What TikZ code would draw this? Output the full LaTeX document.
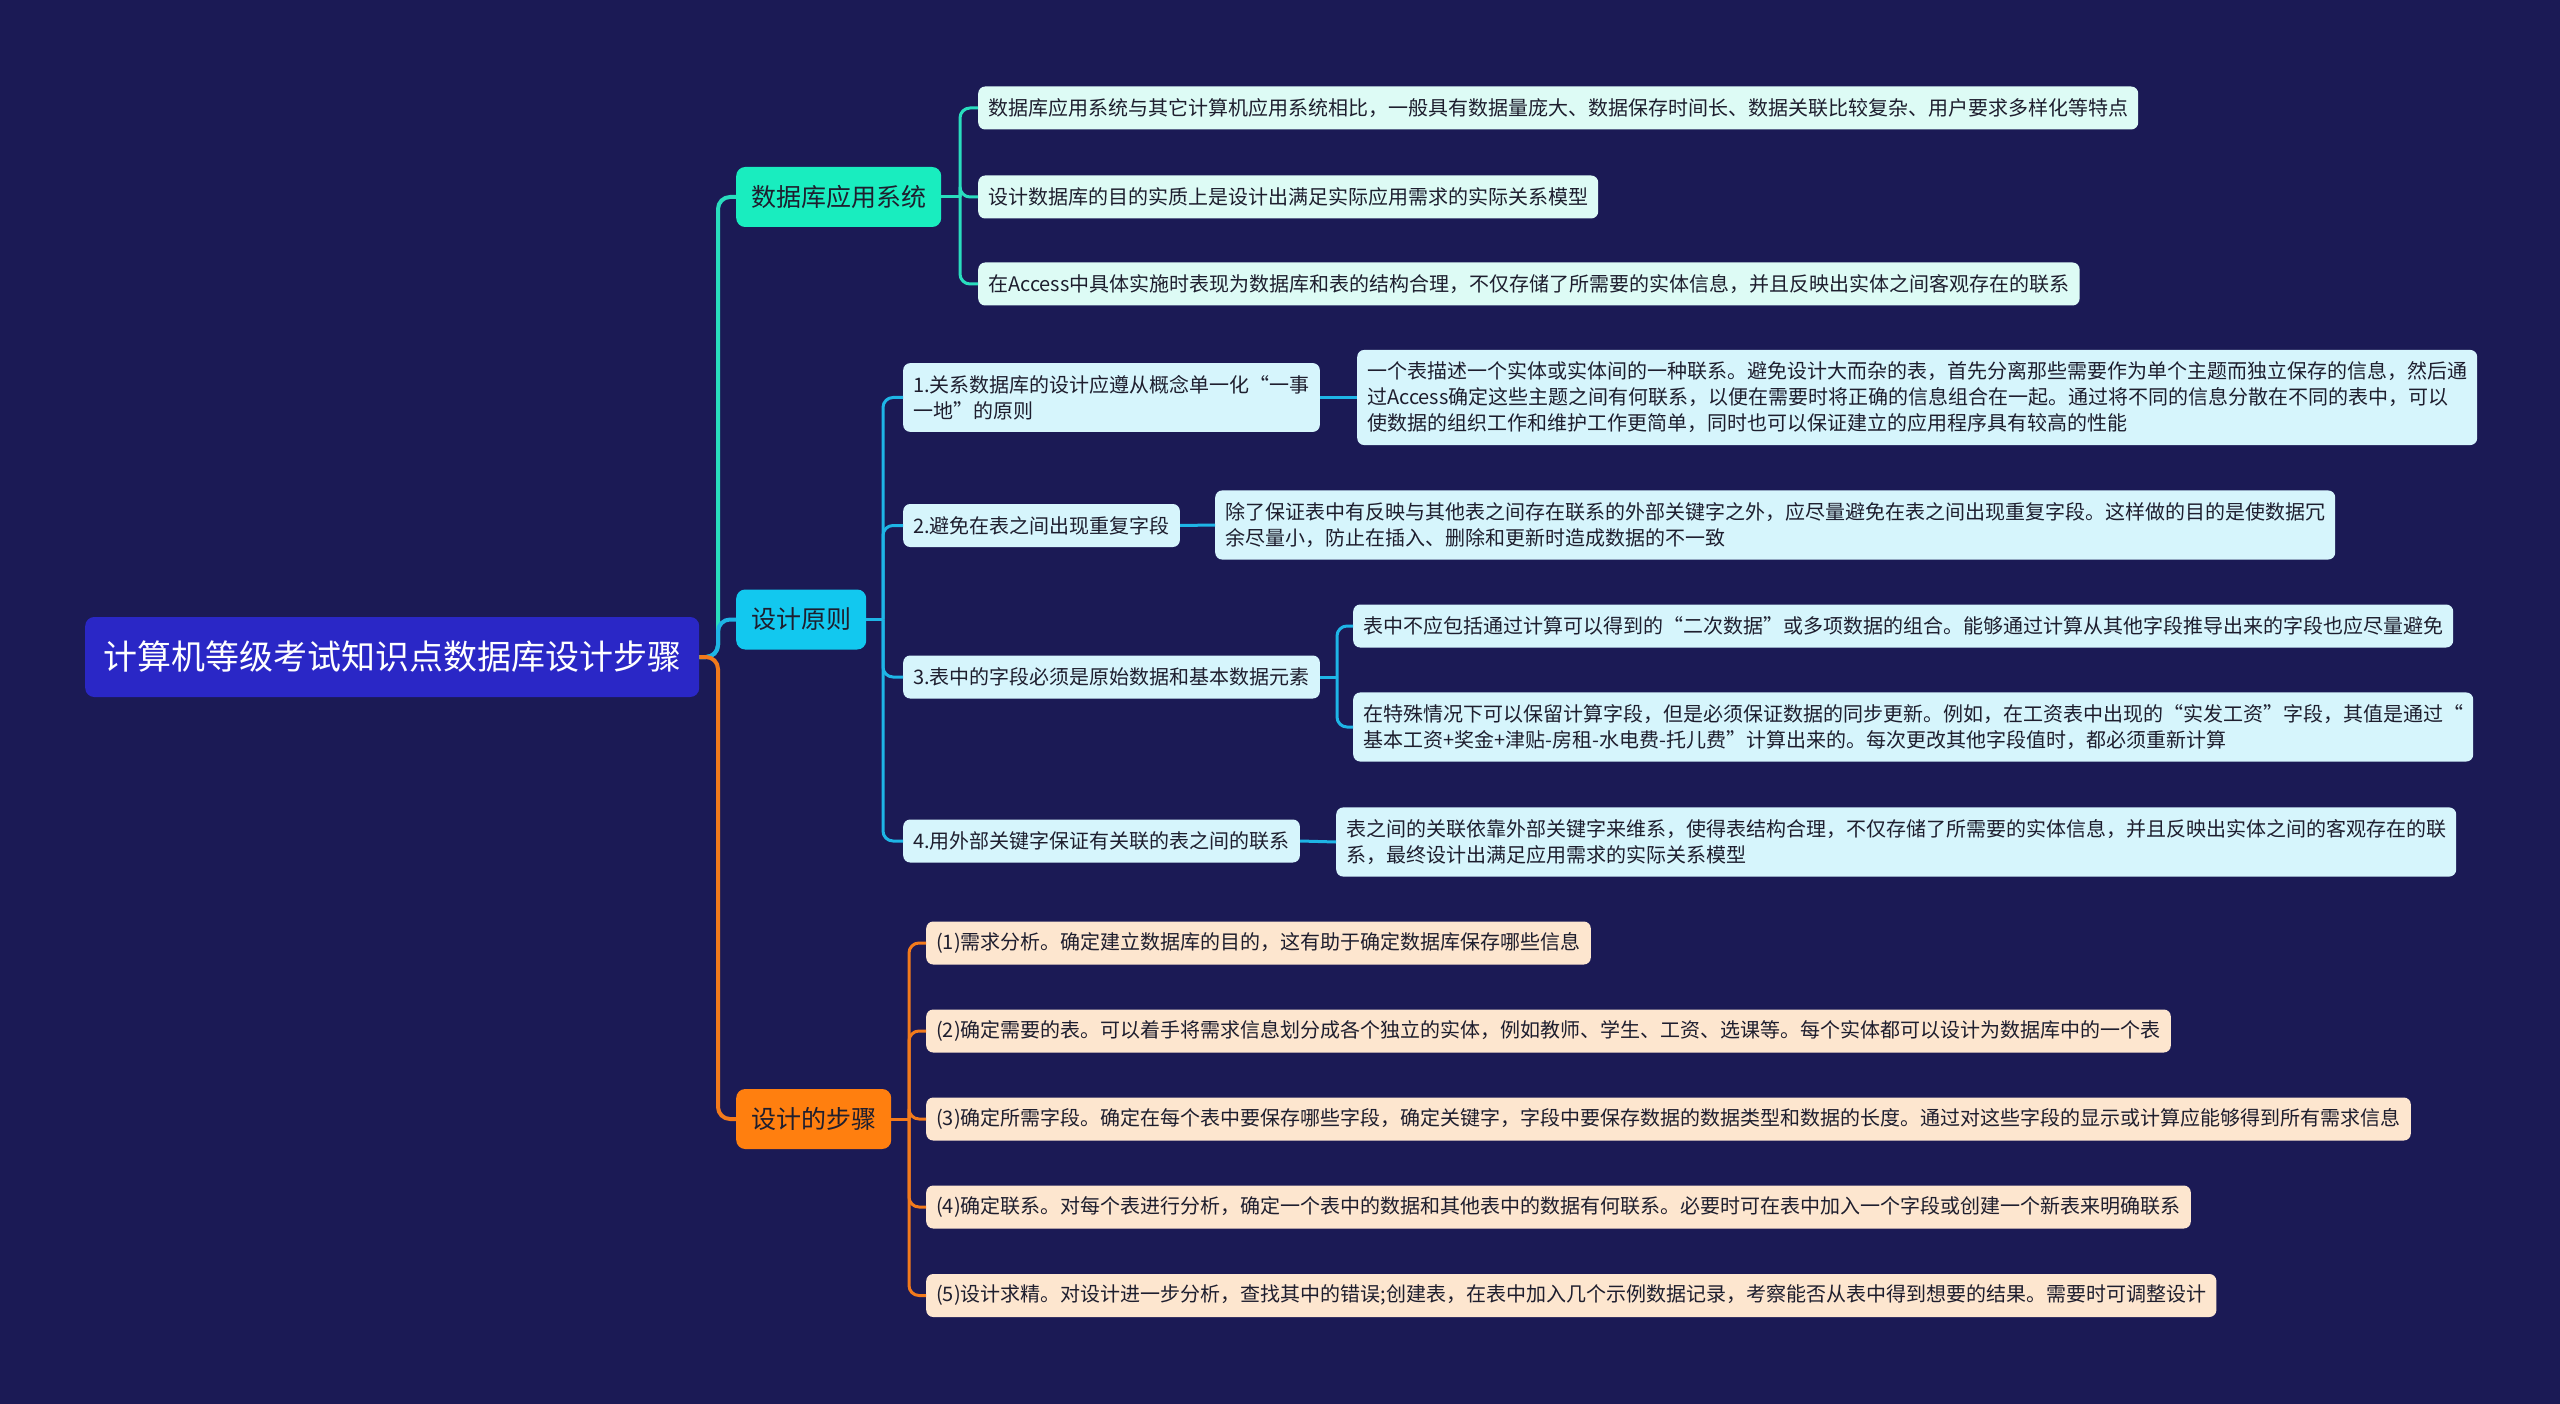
\documentclass[tikz,border=0pt]{standalone}
\usepackage{fontspec}
\setmainfont{Noto Sans CJK SC}
\definecolor{bgc}{HTML}{1B1A55}
\definecolor{rootc}{HTML}{2A27C6}
\definecolor{tealc}{HTML}{19EDBF}
\definecolor{cyanc}{HTML}{12C8EF}
\definecolor{orangec}{HTML}{FF7F0F}
\definecolor{tleaf}{HTML}{DDFBF5}
\definecolor{cleaf}{HTML}{D6F5FC}
\definecolor{oleaf}{HTML}{FDE6CF}
\definecolor{tline}{HTML}{29DDBE}
\definecolor{cline}{HTML}{1EB5E6}
\definecolor{oline}{HTML}{F27A1C}
\definecolor{txtc}{HTML}{1E1E2E}
\tikzset{
  rootbox/.style={fill=rootc, text=white, rounded corners=9pt, inner xsep=18pt, minimum height=80pt, font=\fontsize{34}{40}\selectfont, anchor=west},
  branchbox/.style={rounded corners=9pt, inner xsep=15pt, minimum height=60pt, text=txtc, font=\fontsize{25}{30}\selectfont, anchor=west},
  leafbox/.style={rounded corners=7pt, inner xsep=10pt, inner ysep=10pt, minimum height=43pt, text=txtc, font=\fontsize{20}{26}\selectfont, align=left, anchor=west},
  multibox/.style={leafbox, inner ysep=12pt},
  rline/.style={line width=4pt, rounded corners=12pt},
  lline/.style={line width=3pt, rounded corners=10pt},
}
\begin{document}
\begin{tikzpicture}[x=1pt, y=-1pt]
\fill[bgc] (0,0) rectangle (2560,1404);
\useasboundingbox (0,0) rectangle (2560,1404);

% root and branches
\node[rootbox] (root) at (85,657) {计算机等级考试知识点数据库设计步骤};
\node[branchbox, fill=tealc] (b1) at (736,197) {数据库应用系统};
\node[branchbox, fill=cyanc] (b2) at (736,619.5) {设计原则};
\node[branchbox, fill=orangec] (b3) at (736,1119) {设计的步骤};

% branch 1 leaves
\node[leafbox, fill=tleaf] (l1a) at (978,108) {数据库应用系统与其它计算机应用系统相比，一般具有数据量庞大、数据保存时间长、数据关联比较复杂、用户要求多样化等特点};
\node[leafbox, fill=tleaf] (l1b) at (978,197) {设计数据库的目的实质上是设计出满足实际应用需求的实际关系模型};
\node[leafbox, fill=tleaf] (l1c) at (978,284) {在Access中具体实施时表现为数据库和表的结构合理，不仅存储了所需要的实体信息，并且反映出实体之间客观存在的联系};

% branch 2 children
\node[multibox, fill=cleaf] (p1) at (903,397.5) {1.关系数据库的设计应遵从概念单一化“一事\\一地”的原则};
\node[multibox, fill=cleaf] (p1d) at (1357,397.5) {一个表描述一个实体或实体间的一种联系。避免设计大而杂的表，首先分离那些需要作为单个主题而独立保存的信息，然后通\\过Access确定这些主题之间有何联系，以便在需要时将正确的信息组合在一起。通过将不同的信息分散在不同的表中，可以\\使数据的组织工作和维护工作更简单，同时也可以保证建立的应用程序具有较高的性能};
\node[leafbox, fill=cleaf] (p2) at (903,525.5) {2.避免在表之间出现重复字段};
\node[multibox, fill=cleaf] (p2d) at (1215,525) {除了保证表中有反映与其他表之间存在联系的外部关键字之外，应尽量避免在表之间出现重复字段。这样做的目的是使数据冗\\余尽量小，防止在插入、删除和更新时造成数据的不一致};
\node[leafbox, fill=cleaf] (p3) at (903,677) {3.表中的字段必须是原始数据和基本数据元素};
\node[leafbox, fill=cleaf] (p3a) at (1353,626) {表中不应包括通过计算可以得到的“二次数据”或多项数据的组合。能够通过计算从其他字段推导出来的字段也应尽量避免};
\node[multibox, fill=cleaf] (p3b) at (1353,727) {在特殊情况下可以保留计算字段，但是必须保证数据的同步更新。例如，在工资表中出现的“实发工资”字段，其值是通过“\\基本工资+奖金+津贴-房租-水电费-托儿费”计算出来的。每次更改其他字段值时，都必须重新计算};
\node[leafbox, fill=cleaf] (p4) at (903,841) {4.用外部关键字保证有关联的表之间的联系};
\node[multibox, fill=cleaf] (p4d) at (1336,842) {表之间的关联依靠外部关键字来维系，使得表结构合理，不仅存储了所需要的实体信息，并且反映出实体之间的客观存在的联\\系，最终设计出满足应用需求的实际关系模型};

% branch 3 children
\node[leafbox, fill=oleaf] (s1) at (926,943) {(1)需求分析。确定建立数据库的目的，这有助于确定数据库保存哪些信息};
\node[leafbox, fill=oleaf] (s2) at (926,1031) {(2)确定需要的表。可以着手将需求信息划分成各个独立的实体，例如教师、学生、工资、选课等。每个实体都可以设计为数据库中的一个表};
\node[leafbox, fill=oleaf] (s3) at (926,1119) {(3)确定所需字段。确定在每个表中要保存哪些字段，确定关键字，字段中要保存数据的数据类型和数据的长度。通过对这些字段的显示或计算应能够得到所有需求信息};
\node[leafbox, fill=oleaf] (s4) at (926,1207) {(4)确定联系。对每个表进行分析，确定一个表中的数据和其他表中的数据有何联系。必要时可在表中加入一个字段或创建一个新表来明确联系};
\node[leafbox, fill=oleaf] (s5) at (926,1295.5) {(5)设计求精。对设计进一步分析，查找其中的错误;创建表，在表中加入几个示例数据记录，考察能否从表中得到想要的结果。需要时可调整设计};

% junction coordinates
\coordinate (t0) at (718,657);
\coordinate (v1) at (960,197);
\coordinate (v2) at (883,619.5);
\coordinate (v3) at (909,1119);
\coordinate (v33) at (1337,677);

% root connectors
\draw[rline, tline] (root.east) -- (t0) |- (b1.west);
\draw[rline, cline] (root.east) -- (t0) |- (b2.west);
\draw[rline, oline] (root.east) -- (t0) |- (b3.west);

% branch 1 connectors
\draw[lline, tline] (b1.east) -- (v1);
\foreach \c in {l1a,l1b,l1c} \draw[lline, tline] (v1) |- (\c.west);

% branch 2 connectors
\draw[lline, cline] (b2.east) -- (v2);
\foreach \c in {p1,p2,p3,p4} \draw[lline, cline] (v2) |- (\c.west);
\draw[lline, cline] (p1.east) -- (p1d.west);
\draw[lline, cline] (p2.east) -- (p2d.west);
\draw[lline, cline] (p4.east) -- (p4d.west);
\draw[lline, cline] (p3.east) -- (v33);
\foreach \c in {p3a,p3b} \draw[lline, cline] (v33) |- (\c.west);

% branch 3 connectors
\draw[lline, oline] (b3.east) -- (v3);
\foreach \c in {s1,s2,s3,s4,s5} \draw[lline, oline] (v3) |- (\c.west);
\end{tikzpicture}
\end{document}
